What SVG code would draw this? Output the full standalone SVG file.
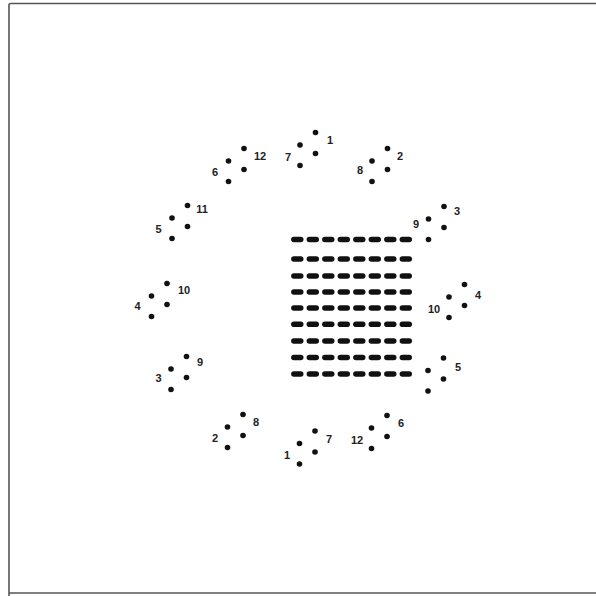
<svg xmlns="http://www.w3.org/2000/svg" xmlns:xlink="http://www.w3.org/1999/xlink" width="596" height="596" viewBox="0 0 596 596">
<style>
.dot{fill:#111}
.lbl{font-family:"Liberation Sans Narrow","Liberation Sans",Arial,sans-serif;font-size:11px;font-weight:bold;fill:#222;text-anchor:middle;dominant-baseline:central}
.frame{stroke:#555;stroke-width:1.6;fill:none}
</style>
<defs>
<g id="quad">
<circle class="dot" cx="0" cy="0" r="2.8"/>
<circle class="dot" cx="0" cy="-20.5" r="2.8"/>
<circle class="dot" cx="15.5" cy="-12" r="2.8"/>
<circle class="dot" cx="15.5" cy="-33" r="2.8"/>
</g>
<rect id="dash" x="-6.2" y="-2.8" width="12.4" height="5.6" rx="2.8" fill="#111"/>
</defs>
<rect width="596" height="596" fill="#fff"/>
<path class="frame" d="M9,596 V4.5 Q9,3.5 11,3.5 H596 M9,593 H596"/>

<g id="n-top-7-1"><use xlink:href="#quad" x="300" y="165.5"/><text class="lbl" x="288" y="157">7</text><text class="lbl" x="330" y="140">1</text></g>
<g id="n-8-2"><use xlink:href="#quad" x="372" y="181.5"/><text class="lbl" x="360" y="170">8</text><text class="lbl" x="400" y="156">2</text></g>
<g id="n-9-3"><use xlink:href="#quad" x="428.5" y="239.5"/><text class="lbl" x="416" y="224">9</text><text class="lbl" x="457" y="211">3</text></g>
<g id="n-10-4"><use xlink:href="#quad" x="449" y="317.5"/><text class="lbl" x="434" y="309">10</text><text class="lbl" x="478" y="295">4</text></g>
<g id="n-5"><use xlink:href="#quad" x="428" y="391"/><text class="lbl" x="458" y="366.5">5</text></g>
<g id="n-12-6"><use xlink:href="#quad" x="371.5" y="448.5"/><text class="lbl" x="357" y="440">12</text><text class="lbl" x="401" y="422.5">6</text></g>
<g id="n-1-7"><use xlink:href="#quad" x="299.5" y="464"/><text class="lbl" x="287" y="454.5">1</text><text class="lbl" x="329" y="439">7</text></g>
<g id="n-2-8"><use xlink:href="#quad" x="227.5" y="447.5"/><text class="lbl" x="215" y="437.5">2</text><text class="lbl" x="256" y="421.5">8</text></g>
<g id="n-3-9"><use xlink:href="#quad" x="171" y="389.5"/><text class="lbl" x="158.5" y="378">3</text><text class="lbl" x="200" y="361.5">9</text></g>
<g id="n-4-10"><use xlink:href="#quad" x="151.5" y="316.5"/><text class="lbl" x="137.5" y="306">4</text><text class="lbl" x="184" y="290">10</text></g>
<g id="n-5-11"><use xlink:href="#quad" x="172" y="238.5"/><text class="lbl" x="158.5" y="228.5">5</text><text class="lbl" x="202" y="209">11</text></g>
<g id="n-6-12"><use xlink:href="#quad" x="228.5" y="181.5"/><text class="lbl" x="215" y="172">6</text><text class="lbl" x="260" y="156">12</text></g>

<g id="grid">
<g id="row1" transform="translate(0,239.5)"><use xlink:href="#dash" x="297.3"/><use xlink:href="#dash" x="312.8"/><use xlink:href="#dash" x="328.3"/><use xlink:href="#dash" x="343.8"/><use xlink:href="#dash" x="359.3"/><use xlink:href="#dash" x="374.8"/><use xlink:href="#dash" x="390.3"/><use xlink:href="#dash" x="405.8"/></g>
<use xlink:href="#row1" y="19.5"/>
<use xlink:href="#row1" y="36.5"/>
<use xlink:href="#row1" y="52.5"/>
<use xlink:href="#row1" y="68.5"/>
<use xlink:href="#row1" y="84.8"/>
<use xlink:href="#row1" y="101.5"/>
<use xlink:href="#row1" y="118"/>
<use xlink:href="#row1" y="134.5"/>
</g>
<g id="connectors"/>
</svg>
